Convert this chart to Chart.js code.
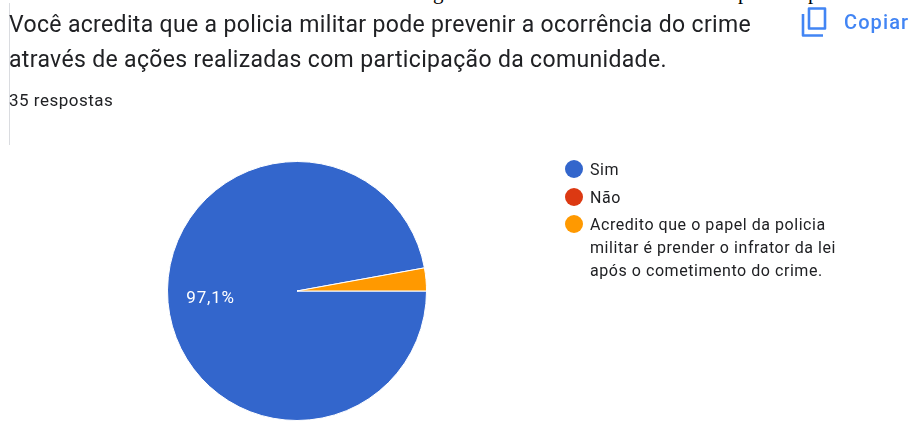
<!DOCTYPE html>
<html>
<head>
<meta charset="UTF-8">
<title>Respostas</title>
<script src="https://cdn.jsdelivr.net/npm/chart.js"></script>
<style>
    html, body { margin: 0; padding: 0; background: #fff; }
    body { width: 910px; height: 428px; position: relative; overflow: hidden; font-family: Roboto, sans-serif; color: #202124; }
    #chart { position: absolute; left: 0; top: 0; }
    .rule { position: absolute; left: 9px; top: 3px; width: 1px; height: 142px; background: #dadce0; }
    .title { position: absolute; left: 9px; top: 7px; font-size: 23px; letter-spacing: .34px; line-height: 35px; white-space: nowrap; filter: blur(.3px); }
    .count { position: absolute; left: 9px; top: 90px; font-size: 17px; letter-spacing: .5px; line-height: 20px; filter: blur(.3px); }
    .copy-text { position: absolute; left: 844px; top: 10px; font-size: 20px; font-weight: 500; letter-spacing: 1.1px; line-height: 24px; color: #4285f4; filter: blur(.3px); }
    .copy-icon { position: absolute; left: 800px; top: 6px; }
    .cut { position: absolute; top: -20px; font-family: "Liberation Serif", serif; font-size: 21px; line-height: 24px; color: #000; }
    #legend { position: absolute; left: 565px; top: 158px; width: 280px; font-size: 16px; letter-spacing: .55px; line-height: 23px; filter: blur(.3px); }
    #legend .item { position: relative; padding-left: 25px; margin-bottom: 4.5px; }
    #legend .dot { position: absolute; left: 0; top: 2px; width: 18px; height: 18px; border-radius: 50%; }
</style>
</head>
<body>
    <div class="rule"></div>
    <span class="cut" style="left:433px">g</span>
    <span class="cut" style="left:738px">p</span>
    <span class="cut" style="left:808px">p</span>
    <div class="title">Você acredita que a policia militar pode prevenir a ocorrência do crime<br>através de ações realizadas com participação da comunidade.</div>
    <div class="count">35 respostas</div>
    <svg class="copy-icon" width="28" height="32" viewBox="0 0 28 32">
        <path d="M9 2.5h16v20H9z" fill="none" stroke="#4285f4" stroke-width="2.6" stroke-linejoin="round"/>
        <path d="M3 8v21.5H23" fill="none" stroke="#4285f4" stroke-width="2.6" stroke-linejoin="round"/>
    </svg>
    <div class="copy-text">Copiar</div>
    <canvas id="chart" width="910" height="428"></canvas>
    <div id="legend"></div>
    <script>
        const categories = ['Sim', 'Não', 'Acredito que o papel da policia militar é prender o infrator da lei após o cometimento do crime.'];
        const answers = [34, 0, 1];
        const sliceColors = ['#3366cc', '#dc3912', '#ff9900'];
        const shownLabels = ['97,1%', '', ''];

        // rotulo em cima da fatia
        const sliceLabels = {
            id: 'sliceLabels',
            afterDatasetsDraw(chart) {
                const ctx = chart.ctx;
                chart.getDatasetMeta(0).data.forEach((arc, i) => {
                    if (!shownLabels[i]) return;
                    const p = arc.getProps(['x', 'y', 'startAngle', 'endAngle', 'outerRadius']);
                    const mid = (p.startAngle + p.endAngle) / 2;
                    ctx.save();
                    ctx.fillStyle = '#ffffff';
                    ctx.font = '17px Roboto';
                    ctx.letterSpacing = '.8px';
                    ctx.textAlign = 'center';
                    ctx.textBaseline = 'middle';
                    ctx.fillText(shownLabels[i], p.x + Math.cos(mid) * p.outerRadius * 0.67, p.y + Math.sin(mid) * p.outerRadius * 0.67);
                    ctx.restore();
                });
            }
        };

        new Chart(document.getElementById('chart'), {
            type: 'pie',
            data: {
                labels: categories,
                datasets: [{
                    data: answers,
                    backgroundColor: sliceColors,
                    borderColor: '#ffffff',
                    borderWidth: 1
                }]
            },
            options: {
                responsive: false,
                animation: false,
                rotation: 90,
                layout: { padding: { left: 167, right: 483, top: 161, bottom: 7 } },
                plugins: { legend: { display: false }, tooltip: { enabled: false } }
            },
            plugins: [sliceLabels]
        });

        const legend = document.getElementById('legend');
        categories.forEach((name, i) => {
            const item = document.createElement('div');
            item.className = 'item';
            const dot = document.createElement('span');
            dot.className = 'dot';
            dot.style.background = sliceColors[i];
            item.appendChild(dot);
            item.appendChild(document.createTextNode(name));
            legend.appendChild(item);
        });
    </script>
</body>
</html>
